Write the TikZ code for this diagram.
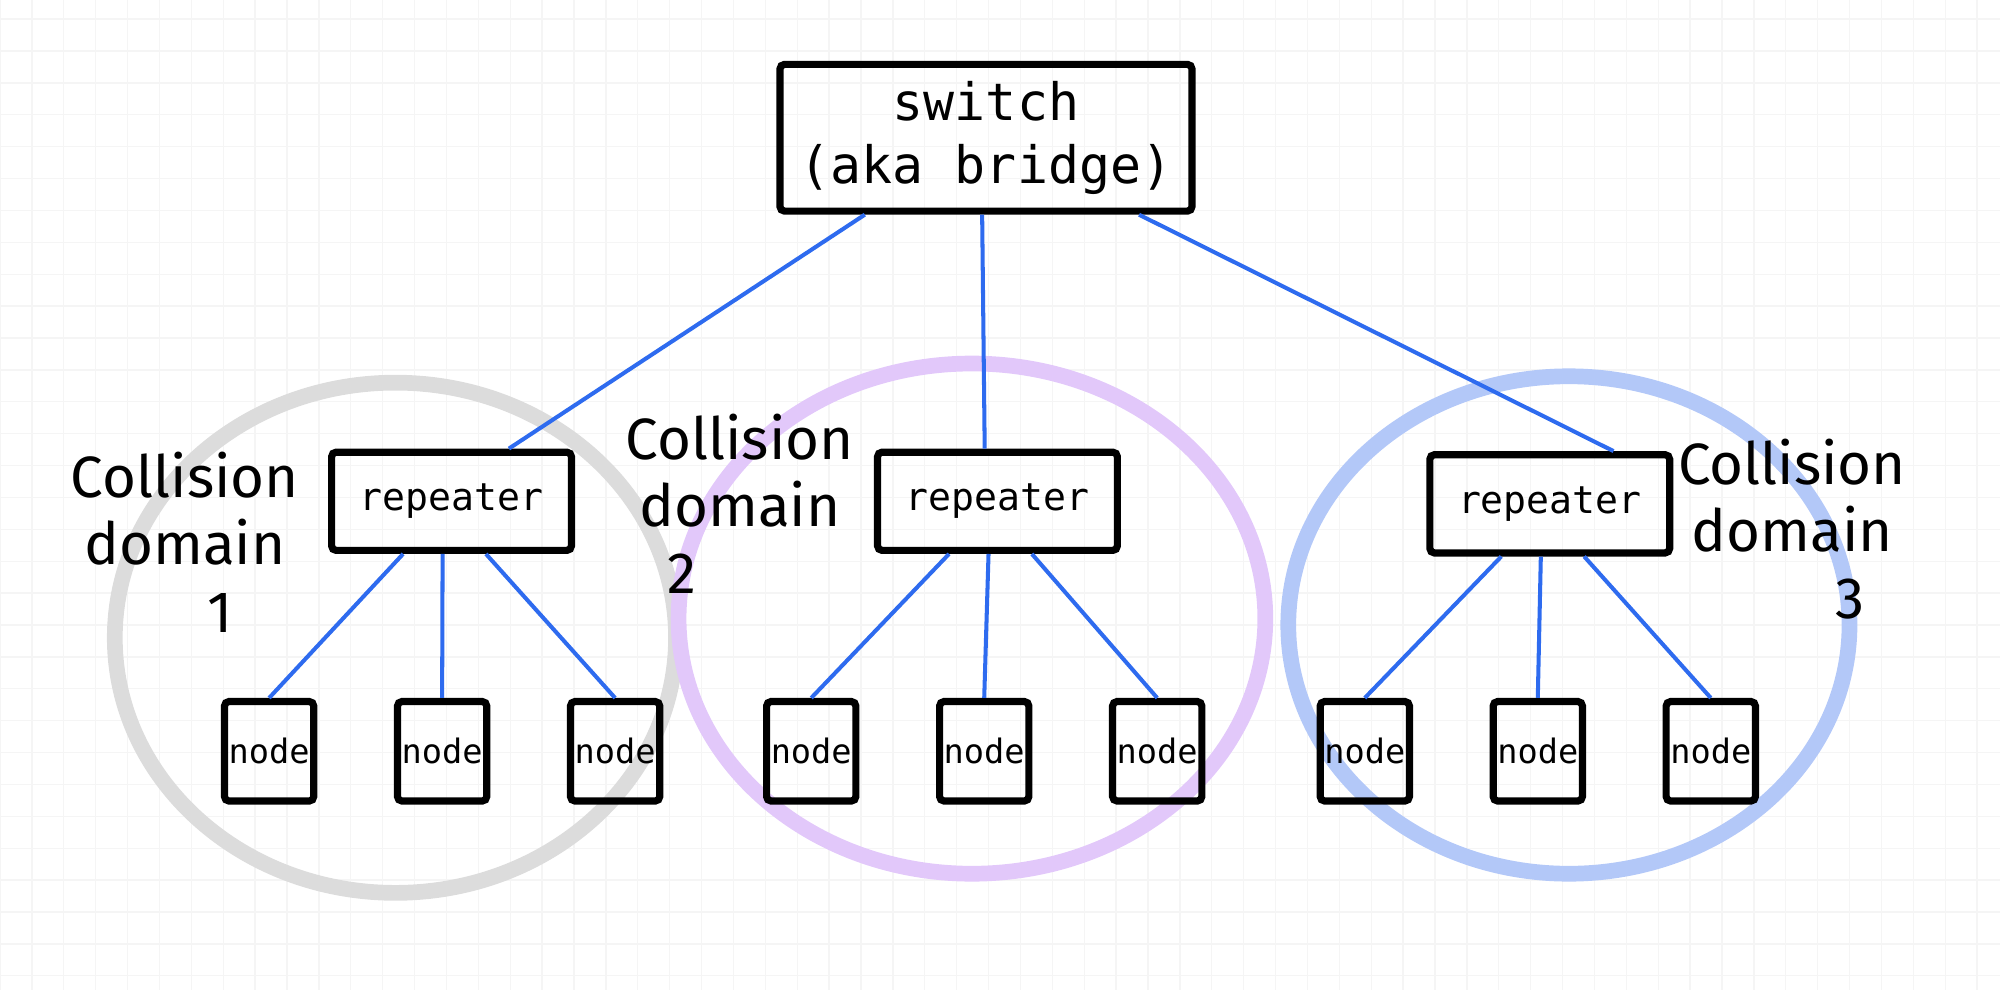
\documentclass[tikz,border=0pt]{standalone}
\usepackage{fontspec}
\setmainfont{Fira Sans}
\setmonofont{DejaVu Sans Mono}
\usetikzlibrary{positioning}
\definecolor{wire}{HTML}{2E6BEF}
\definecolor{dgrey}{HTML}{DCDCDC}
\definecolor{dpurple}{HTML}{E2C8FA}
\definecolor{dblue}{HTML}{B3C8F8}
\tikzset{
  box/.style={draw=black, line width=1.6pt, rounded corners=1pt, font=\ttfamily, inner sep=0pt},
  host/.style={box, minimum width=0.7cm, minimum height=0.78cm, font=\ttfamily\fontsize{7.5}{9}\selectfont},
  hub/.style={box, minimum width=1.88cm, minimum height=0.77cm, font=\ttfamily\fontsize{8.5}{10}\selectfont},
  link/.style={draw=wire, line width=0.9pt},
  coldom/.style={line width=3.5pt},
  dlabel/.style={font=\fontsize{13}{15}\selectfont, align=center}
}
\begin{document}
\begin{tikzpicture}
  \useasboundingbox (0,2.14) rectangle (15.68,9.9);
  \draw[black!4, line width=0.3pt] (0,2.14) grid[step=0.25] (15.68,9.9);

  % collision domains
  \draw[coldom, dgrey] (3.1,4.9) ellipse (2.2 and 2.0);
  \draw[coldom, dpurple] (7.62,5.05) ellipse (2.3 and 2.0);
  \draw[coldom, dblue] (12.3,5.0) ellipse (2.2 and 1.95);

  \node[box, minimum width=3.23cm, minimum height=1.15cm, align=center,
        font=\ttfamily\fontsize{11.5}{14}\selectfont] (sw) at (7.73,8.82) {switch\\(aka bridge)};

  \node[hub] (r1) at (3.54,5.97) {repeater};
  \node[hub] (r2) at (7.82,5.97) {repeater};
  \node[hub] (r3) at (12.15,5.95) {repeater};

  \foreach \g/\x in {1/2.11, 2/6.36, 3/10.70} {
    \node[host] (n\g a) at (\x,4.01) {node};
    \node[host, right=0.6cm of n\g a] (n\g b) {node};
    \node[host, right=0.6cm of n\g b] (n\g c) {node};
  }

  \draw[link] ([xshift=-0.95cm]sw.south) -- ([xshift=0.45cm]r1.north);
  \draw[link] ([xshift=-0.03cm]sw.south) -- ([xshift=-0.1cm]r2.north);
  \draw[link] ([xshift=1.2cm]sw.south) -- ([xshift=0.5cm]r3.north);

  \foreach \g in {1,2,3} {
    \draw[link] ([xshift=-0.38cm]r\g.south) -- (n\g a.north);
    \draw[link] ([xshift=-0.07cm]r\g.south) -- (n\g b.north);
    \draw[link] ([xshift=0.27cm]r\g.south) -- (n\g c.north);
  }

  \node[dlabel] (l1) at (1.45,5.65) {Collision\\domain\\\hspace*{1.2em}1};
  \node[dlabel] (l2) at (5.8,5.95) {Collision\\domain\\2\hspace*{2em}};
  \node[dlabel] (l3) at (14.05,5.75) {Collision\\domain\\\hspace*{2em}3};
\end{tikzpicture}
\end{document}
